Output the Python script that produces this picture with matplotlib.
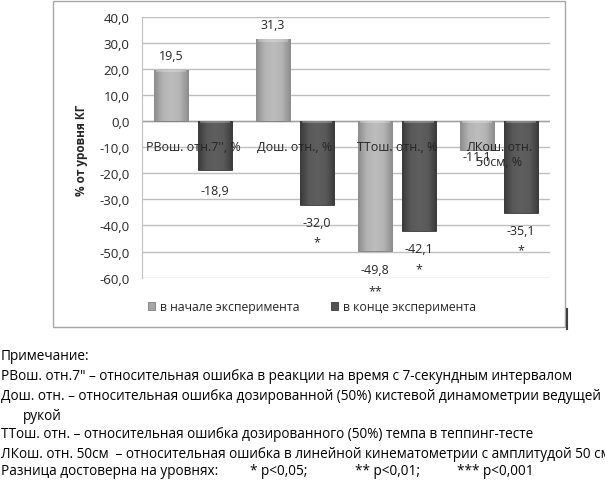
import numpy as np
import matplotlib
matplotlib.use("Agg")
import matplotlib.pyplot as plt
from matplotlib.patches import Rectangle
from matplotlib.lines import Line2D

plt.rcParams['font.family'] = ['Open Sans', 'DejaVu Sans']

# ---- data ----
categories = ["РВош. отн.7'', %", "Дош. отн., %", "ТТош. отн., %", "ЛКош. отн.\n50см, %"]
start_vals = [19.5, 31.3, -49.8, -11.1]
end_vals = [-18.9, -32.0, -42.1, -35.1]
start_stars = ["", "", "**", ""]
end_stars = ["", "*", "*", "*"]
series_names = ["в начале эксперимента", "в конце эксперимента"]
y_ticks = [40, 30, 20, 10, 0, -10, -20, -30, -40, -50, -60]
y_label = "% от уровня КГ"
notes = [
    "Примечание:",
    "РВош. отн.7\" – относительная ошибка в реакции на время с 7-секундным интервалом",
    "Дош. отн. – относительная ошибка дозированной (50%) кистевой динамометрии ведущей",
    "рукой",
    "ТТош. отн. – относительная ошибка дозированного (50%) темпа в теппинг-тесте",
    "ЛКош. отн. 50см  – относительная ошибка в линейной кинематометрии с амплитудой 50 см",
    "Разница достоверна на уровнях:",
]
levels = ["* p<0,05;", "** p<0,01;", "*** p<0,001"]

W, H = 605, 481
fig = plt.figure(figsize=(W / 100, H / 100), dpi=100)

def fx(px):
    return px / W

def fy(py):
    return 1 - py / H

# chart border
fig.patches.append(Rectangle((fx(53), fy(328)), fx(565) - fx(53), fy(2) - fy(328),
                             transform=fig.transFigure, fill=False,
                             edgecolor='#a6a6a6', linewidth=1.0))
fig.add_artist(Line2D([fx(567), fx(567)], [fy(310), fy(330)], transform=fig.transFigure,
                      color='#404040', linewidth=1.5))

ax = fig.add_axes([fx(142), fy(278.6), fx(550) - fx(142), fy(17.6) - fy(278.6)])
ax.set_xlim(-0.5, 3.5)
ax.set_ylim(-60, 40)
ax.set_yticks(y_ticks)
ax.set_yticklabels([f"{v:.1f}".replace('.', ',') for v in y_ticks], fontsize=9.5, color='#262626')
ax.set_xticks([])
ax.tick_params(axis='y', length=0, pad=9)
for s in ['top', 'right', 'bottom']:
    ax.spines[s].set_visible(False)
ax.spines['left'].set_color('#bfbfbf')
ax.grid(axis='y', color='#bfbfbf', linewidth=1.0)
ax.set_axisbelow(True)
ax.axhline(0, color='#a0a0a0', linewidth=1.0, zorder=1)

x = np.arange(len(categories))
bw = 0.335
off = 0.216

light_map = matplotlib.colors.LinearSegmentedColormap.from_list(
    'l', ['#8c8c8c', '#b4b4b4', '#bdbdbd', '#b4b4b4', '#8c8c8c'])
dark_map = matplotlib.colors.LinearSegmentedColormap.from_list(
    'd', ['#3a3a3a', '#595959', '#5f5f5f', '#595959', '#3a3a3a'])

def shade(bars, cmap):
    grad = np.linspace(0, 1, 64).reshape(1, -1)
    for b in bars:
        x0, y0 = b.get_x(), b.get_y()
        w, h = b.get_width(), b.get_height()
        ylo, yhi = min(y0, y0 + h), max(y0, y0 + h)
        im = ax.imshow(grad, cmap=cmap, aspect='auto', extent=[x0, x0 + w, ylo, yhi],
                       zorder=2.5, interpolation='bicubic')
        im.set_clip_path(b)
        # bevel highlight at the top edge
        ax.add_patch(Rectangle((x0 + w * 0.06, yhi - 0.9), w * 0.88, 0.9,
                               facecolor='white', alpha=0.25, edgecolor='none', zorder=2.6))

b1 = ax.bar(x - off, start_vals, bw, color='#a6a6a6', edgecolor='#7f7f7f', linewidth=0.6,
            zorder=2, label=series_names[0])
b2 = ax.bar(x + off, end_vals, bw, color='#545454', edgecolor='#3a3a3a', linewidth=0.6,
            zorder=2, label=series_names[1])
shade(b1, light_map)
shade(b2, dark_map)
ax.set_xlim(-0.5, 3.5)
ax.set_ylim(-60, 40)

# category labels at zero line
for xi, c in zip(x, categories):
    ax.text(xi, -7.4, c, ha='center', va='top', fontsize=9, color='#262626', zorder=5,
            linespacing=1.2)

def fmt(v):
    return f"{v:.1f}".replace('.', ',')

label_off_neg = [-14, -13, -13, -5]

for i, (xi, v, st) in enumerate(zip(x - off, start_vals, start_stars)):
    dy = 10.5 if v >= 0 else label_off_neg[i]
    ax.annotate(fmt(v), (xi, v), xytext=(0, dy), textcoords='offset points',
                ha='center', va='center', fontsize=9, color='#262626', zorder=6)
    if st:
        ax.annotate(st, (xi, v), xytext=(0, dy - 16), textcoords='offset points',
                    ha='center', va='center', fontsize=9, color='#262626', zorder=6)
for i, (xi, v, st) in enumerate(zip(x + off, end_vals, end_stars)):
    dy = 10.5 if v >= 0 else (-14.5 if i == 0 else -13)
    ax.annotate(fmt(v), (xi, v), xytext=(0, dy), textcoords='offset points',
                ha='center', va='center', fontsize=9, color='#262626', zorder=6)
    if st:
        ax.annotate(st, (xi, v), xytext=(0, dy - 14), textcoords='offset points',
                    ha='center', va='center', fontsize=9, color='#262626', zorder=6)

fig.text(fx(81), fy(150), y_label, rotation=90, ha='center', va='center',
         fontsize=8.5, fontweight='bold', color='#262626')

leg = fig.legend(handles=[b1, b2], labels=series_names, loc='center', ncol=2,
                 bbox_to_anchor=(fx(312), fy(308)), frameon=False, fontsize=8.8,
                 handlelength=0.6, handleheight=0.6, handletextpad=0.4, columnspacing=2.6)
for t in leg.get_texts():
    t.set_color('#262626')

# notes
note_y = [357, 377, 397, 416, 435, 454, 472]
note_x = [1, 1, 1, 23, 1, 1, 1]
for t, yy, xx in zip(notes, note_y, note_x):
    fig.text(fx(xx), fy(yy), t, ha='left', va='center', fontsize=9.8, color='black')
for t, xx in zip(levels, [250, 355, 457]):
    fig.text(fx(xx), fy(note_y[-1]), t, ha='left', va='center', fontsize=9.8, color='black')

fig.savefig('out.png', dpi=100)
